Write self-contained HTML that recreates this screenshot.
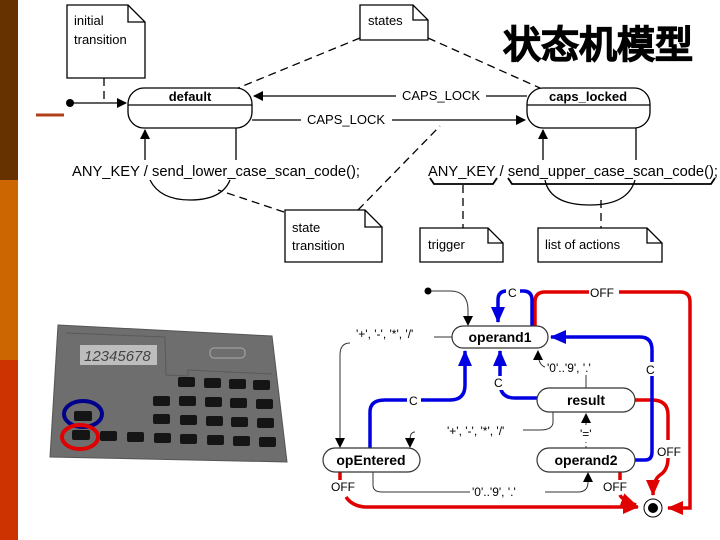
<!DOCTYPE html>
<html><head><meta charset="utf-8"><style>
html,body{margin:0;padding:0;background:#fff;}
svg{display:block;}
text{font-family:"Liberation Sans",sans-serif;}
</style></head><body>
<svg width="720" height="540" viewBox="0 0 720 540" xmlns="http://www.w3.org/2000/svg">
<defs>
<marker id="ak" markerWidth="10" markerHeight="10" refX="9" refY="5" orient="auto" markerUnits="userSpaceOnUse"><path d="M0,0 L10,5 L0,10 z" fill="#000"/></marker>
<marker id="ab" markerWidth="16" markerHeight="14" refX="15" refY="7" orient="auto" markerUnits="userSpaceOnUse"><path d="M0,0 L16,7 L0,14 z" fill="#0000e0"/></marker>
<marker id="ar" markerWidth="16" markerHeight="14" refX="15" refY="7" orient="auto" markerUnits="userSpaceOnUse"><path d="M0,0 L16,7 L0,14 z" fill="#e00000"/></marker>
</defs>
<rect x="0" y="0" width="18" height="180" fill="#663300"/>
<rect x="0" y="180" width="18" height="180" fill="#cc6600"/>
<rect x="0" y="360" width="18" height="180" fill="#cc3300"/>
<line x1="36" y1="115" x2="64" y2="115" stroke="#b0401a" stroke-width="3"/>

<g fill="none" stroke="#000" stroke-width="1.3">
<path d="M67,5 H128 L145,22 V78 H67 Z" fill="#fff"/><path d="M128,5 V22 H145"/>
<path d="M360,5 H413 L428,20 V40 H360 Z" fill="#fff"/><path d="M413,5 V20 H428"/>
<path d="M285,210 H365 L382,227 V262 H285 Z" fill="#fff"/><path d="M365,210 V227 H382"/>
<path d="M420,228 H488 L503,243 V262 H420 Z" fill="#fff"/><path d="M488,228 V243 H503"/>
<path d="M538,228 H647 L662,243 V262 H538 Z" fill="#fff"/><path d="M647,228 V243 H662"/>
<g stroke-dasharray="8,5">
<path d="M104,78 V103"/><path d="M360,38 L238,88"/><path d="M428,38 L540,88"/>
<path d="M284,212 L218,190"/><path d="M358,210 L440,126"/><path d="M463,185 V228"/><path d="M601,200 V228"/>
</g>
<rect x="128" y="88" width="124" height="40" rx="16"/><line x1="128" y1="105" x2="252" y2="105"/>
<rect x="527" y="88" width="123" height="40" rx="16"/><line x1="527" y1="105" x2="650" y2="105"/>
<path d="M70,103 H126" marker-end="url(#ak)"/>
<path d="M527,96 H486"/><path d="M396,96 H254" marker-end="url(#ak)"/>
<path d="M252,120 H301"/><path d="M392,120 H525" marker-end="url(#ak)"/>
<path d="M145,160 V130" marker-end="url(#ak)"/><path d="M236,128 V160"/>
<path d="M150,180 Q160,200 190,200 Q222,200 230,180"/>
<path d="M543,160 V130" marker-end="url(#ak)"/><path d="M636,128 V160"/>
<path d="M545,180 Q550,205 590,205 Q628,205 635,180"/>
<path d="M430,178 L434,184 H493 L497,178" stroke-width="1.8"/>
<path d="M508,178 L512,184 H711 L715,178" stroke-width="1.8"/>
</g>
<circle cx="70" cy="103" r="4" fill="#000"/>
<g font-size="13" fill="#000">
<text x="74" y="25">initial</text><text x="74" y="44">transition</text>
<text x="368" y="25">states</text>
<text x="292" y="232">state</text><text x="292" y="250">transition</text>
<text x="428" y="249">trigger</text>
<text x="545" y="249">list of actions</text>
<text x="190" y="101" text-anchor="middle" font-weight="bold">default</text>
<text x="588" y="101" text-anchor="middle" font-weight="bold">caps_locked</text>
<text x="441" y="100" text-anchor="middle">CAPS_LOCK</text>
<text x="346" y="124" text-anchor="middle">CAPS_LOCK</text>
<text x="72" y="176" font-size="14.3" textLength="288" lengthAdjust="spacingAndGlyphs">ANY_KEY / send_lower_case_scan_code();</text>
<text x="428" y="176" font-size="14.3" textLength="290" lengthAdjust="spacingAndGlyphs">ANY_KEY / send_upper_case_scan_code();</text>
</g>
<text x="693" y="58" text-anchor="end" font-size="38" font-weight="900" font-family="'Noto Sans CJK SC',sans-serif" fill="#000" stroke="#000" stroke-width="1">状态机模型</text>

<path d="M58,325 L272,336 L287,462 L50,457 Z" fill="#6e6e6e" stroke="#555"/>
<path d="M66,333 L165,337 L166,375 L188,376 L188,370 L272,374" fill="none" stroke="#5a5a5a"/>
<rect x="80" y="345" width="77" height="20" fill="#bdbdbd"/>
<text x="84" y="361" font-size="15" fill="#444" font-style="italic">12345678</text>
<rect x="210" y="348" width="35" height="10" rx="4" fill="none" stroke="#aaa"/>
<g fill="#151515">
<rect x="178" y="377" width="17" height="10" rx="2"/><rect x="204" y="378" width="17" height="10" rx="2"/><rect x="229" y="379" width="17" height="10" rx="2"/><rect x="253" y="380" width="17" height="10" rx="2"/>
<rect x="153" y="396" width="17" height="10" rx="2"/><rect x="179" y="396" width="17" height="10" rx="2"/><rect x="205" y="397" width="17" height="10" rx="2"/><rect x="230" y="398" width="17" height="10" rx="2"/><rect x="256" y="399" width="17" height="10" rx="2"/>
<rect x="153" y="414" width="17" height="10" rx="2"/><rect x="180" y="415" width="17" height="10" rx="2"/><rect x="206" y="416" width="17" height="10" rx="2"/><rect x="231" y="417" width="17" height="10" rx="2"/><rect x="257" y="418" width="17" height="10" rx="2"/>
<rect x="74" y="411" width="18" height="10" rx="2"/>
<rect x="72" y="430" width="18" height="10" rx="2"/><rect x="100" y="431" width="17" height="10" rx="2"/><rect x="127" y="432" width="17" height="10" rx="2"/><rect x="154" y="433" width="17" height="10" rx="2"/><rect x="180" y="434" width="17" height="10" rx="2"/><rect x="207" y="435" width="17" height="10" rx="2"/><rect x="233" y="436" width="17" height="10" rx="2"/><rect x="259" y="437" width="17" height="10" rx="2"/>
</g>
<ellipse cx="83" cy="414" rx="19" ry="13" fill="none" stroke="#00008b" stroke-width="4"/>
<ellipse cx="80" cy="437" rx="18" ry="12" fill="none" stroke="#e00000" stroke-width="4"/>

<g fill="none">
<g stroke="#e00000" stroke-width="3.5">
<path d="M535,327 V302 Q535,292 545,292 H680 Q690,292 690,302 V508 H668" marker-end="url(#ar)"/>
<path d="M340,472 V480 M346,497 Q352,506 365,507 H638" marker-end="url(#ar)"/>
<path d="M620,472 V480 M620,495 Q622,500 636,505" marker-end="url(#ar)"/>
<path d="M635,400 H652 Q668,400 668,415 V440 M668,458 Q668,470 660,475 Q653,480 653,495" marker-end="url(#ar)"/>
</g>
<g stroke="#0000e0" stroke-width="3.5">
<path d="M532,327 V300 Q532,291 523,291 H507 Q498,291 498,300 V322" marker-end="url(#ab)"/>
<path d="M635,460 H645 Q652,460 652,452 V350 Q652,337 640,337 H551" marker-end="url(#ab)"/>
<path d="M537,398 H515 Q500,398 500,383 V351" marker-end="url(#ab)"/>
<path d="M370,448 V412 Q370,400 385,400 H450 Q465,400 465,385 V351" marker-end="url(#ab)"/>
</g>
<g stroke="#333" stroke-width="1">
<path d="M428,291 H450 Q468,291 468,310 V325" marker-end="url(#ak)"/>
<path d="M452,337 H434 M350,343 Q340,343 340,355 V447" marker-end="url(#ak)"/>
<path d="M553,412 V422 Q553,430 540,430 H523 M415,432 Q410,432 410,440 V447" marker-end="url(#ak)"/>
<path d="M586,388 V375 M545,367 Q538,365 538,351" marker-end="url(#ak)"/>
<path d="M586,448 V442 M586,425 V414" stroke-dasharray="2,3" marker-end="url(#ak)"/>
<path d="M373,472 V485 Q373,492 382,492 H470 M545,492 H578 Q588,492 588,482 V473" marker-end="url(#ak)"/>
</g>
<g stroke="#333" stroke-width="1.2" fill="#fff">
<rect x="452" y="326" width="96" height="22" rx="11"/>
<rect x="537" y="388" width="98" height="24" rx="12"/>
<rect x="323" y="448" width="97" height="24" rx="12"/>
<rect x="537" y="448" width="98" height="24" rx="12"/>
</g>
</g>
<circle cx="428" cy="291" r="3.5" fill="#000"/>
<circle cx="653" cy="508" r="9" fill="#fff" stroke="#000" stroke-width="1"/><circle cx="653" cy="508" r="5" fill="#000"/>
<g font-size="14" font-weight="bold" fill="#000" text-anchor="middle">
<text x="500" y="342">operand1</text><text x="586" y="405">result</text>
<text x="371" y="465">opEntered</text><text x="586" y="465">operand2</text>
</g>
<g font-size="12" fill="#000">
<rect x="506" y="285" width="14" height="14" fill="#fff"/><text x="508" y="297">C</text>
<rect x="589" y="286" width="30" height="13" fill="#fff"/><text x="590" y="297">OFF</text>
<rect x="645" y="362" width="14" height="14" fill="#fff"/><text x="646" y="374">C</text>
<rect x="491" y="376" width="14" height="14" fill="#fff"/><text x="494" y="387">C</text>
<rect x="407" y="394" width="14" height="14" fill="#fff"/><text x="409" y="405">C</text>
<text x="356" y="338">'+', '-', '*',  '/'</text>
<text x="447" y="435">'+', '-', '*',  '/'</text>
<text x="547" y="372">'0'..'9', '.'</text>
<text x="580" y="438">'='</text>
<text x="472" y="496">'0'..'9', '.'</text>
<text x="331" y="491">OFF</text>
<text x="603" y="491">OFF</text>
<text x="657" y="456">OFF</text>
</g>
</svg>
</body></html>
